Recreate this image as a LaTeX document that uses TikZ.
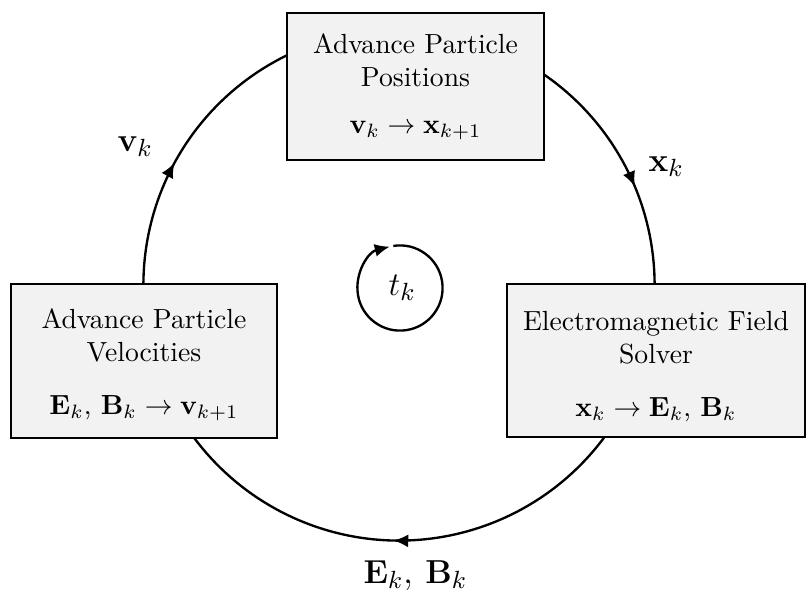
\documentclass[tikz,border=0pt]{standalone}
\usetikzlibrary{arrows.meta,decorations.markings,calc}
\definecolor{boxfill}{HTML}{F2F2F2}
\begin{document}
\begin{tikzpicture}[x=0.3615pt,y=0.3615pt,
  flow/.style={line width=0.85pt},
  stagebox/.style={draw, line width=0.8pt, fill=boxfill, align=center, inner sep=0pt},
  lbl/.style={font=\fontsize{13.2}{16}\selectfont, inner sep=0pt},
  tipstyle/.style={-{Latex[length=5.4pt,width=4.7pt]}},
  arrowat/.style={postaction={decorate},decoration={markings,mark=at position #1 with {\arrow{Latex[length=5.4pt,width=4.7pt]}}}}]
\useasboundingbox (0,0) rectangle (807,592);
\def\bigrad{92.4pt}
\def\smallrad{15.4pt}
\coordinate (c) at (399,307);
\coordinate (s) at (400,304);
% cycle arcs
\draw[flow, arrowat=0.445] ($(c)+(180:\bigrad)$) arc[start angle=180, end angle=115.8, radius=\bigrad];
\draw[flow, arrowat=0.595] ($(c)+(56:\bigrad)$) arc[start angle=56, end angle=0, radius=\bigrad];
\draw[flow, arrowat=0.513] ($(c)+(-36.7:\bigrad)$) arc[start angle=-36.7, end angle=-143.1, radius=\bigrad];
% time loop
\draw[flow, tipstyle] ($(s)+(99:\smallrad)$) arc[start angle=99, end angle=-256, radius=\smallrad];
% boxes
\node[stagebox, minimum width=92.9pt, minimum height=53.1pt] (pos) at (415.5,505.5)
  {Advance Particle\\Positions\\[5pt]$\mathbf{v}_k \rightarrow \mathbf{x}_{k+1}$};
\node[stagebox, minimum width=96.2pt, minimum height=55.7pt] (vel) at (144,231)
  {\rule{0pt}{10pt}Advance Particle\\Velocities\\[7pt]$\mathbf{E}_k$, $\mathbf{B}_k \rightarrow \mathbf{v}_{k+1}$};
\node[stagebox, minimum width=107.7pt, minimum height=55.3pt] (field) at (656,231.5)
  {\rule{0pt}{11.4pt}Electromagnetic Field\\Solver\\[7pt]$\mathbf{x}_k \rightarrow \mathbf{E}_k$, $\mathbf{B}_k$};
% labels
\node[lbl, anchor=base west] (vlab) at (117,441) {$\mathbf{v}_k$};
\node[lbl, anchor=base west] (xlab) at (648,421) {$\mathbf{x}_k$};
\node[lbl, anchor=base] (eblab) at (415.5,9) {$\mathbf{E}_k$, $\mathbf{B}_k$};
\node[lbl, anchor=base west] (tlab) at (388,297) {$t_k$};
\end{tikzpicture}
\end{document}
